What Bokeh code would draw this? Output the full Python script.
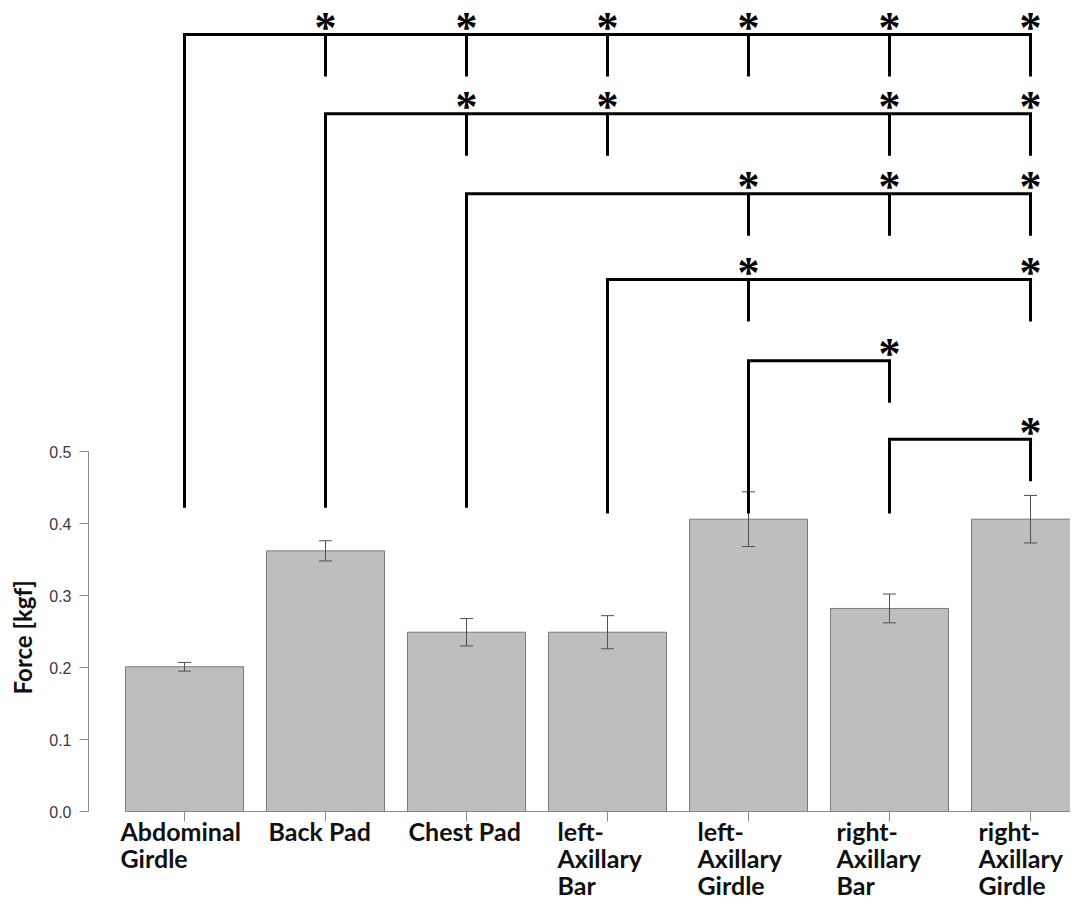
import numpy as np
from bokeh.plotting import figure
from bokeh.layouts import row
from bokeh.models import Range1d, FixedTicker, PrintfTickFormatter
from bokeh.core.properties import value
from bokeh.embed import file_html
from bokeh.resources import INLINE

# ---------------- data ----------------
categories = ["Abdominal\nGirdle", "Back Pad", "Chest Pad", "left-\nAxillary\nBar",
              "left-\nAxillary\nGirdle", "right-\nAxillary\nBar", "right-\nAxillary\nGirdle"]
force_mean = [0.201, 0.362, 0.249, 0.249, 0.406, 0.282, 0.406]
force_err = [0.006, 0.014, 0.019, 0.023, 0.038, 0.020, 0.033]
y_ticks = [0.0, 0.1, 0.2, 0.3, 0.4, 0.5]
y_title = "Force [kgf]"

# significance brackets: reference bar -> bars that differ significantly
sig_ref = [0, 1, 2, 3, 4, 5]
sig_targets = [[1, 2, 3, 4, 5, 6], [2, 3, 5, 6], [4, 5, 6], [4, 6], [5], [6]]
bracket_level = [1.079, 0.969, 0.858, 0.739, 0.626, 0.517]
bracket_foot = [0.422, 0.422, 0.422, 0.414, 0.414, 0.414]

# ---------------- layout constants ----------------
W, H = 1070, 899
TITLE_W = 40       # width of the strip holding the y title
LEFT = 88          # frame left edge of the chart (px from page left)
ZERO_PX = 811      # pixel row of y = 0
X0_PX = 184        # pixel column of first bar centre
PXX = 141.0        # px per category
PXY = 720.0        # px per kgf
BAR_W = 118 / PXX
CAP = 6.5 / PXX
DROP = 42 / PXY
AST_DY = 7 / PXY
LABEL_DX = [-64, -57, -58, -50, -51, -53, -52]

x = np.arange(len(categories), dtype=float)
y_range = Range1d(-(H - ZERO_PX) / PXY, ZERO_PX / PXY)

# ---------- main chart ----------
p = figure(width=W - TITLE_W, height=H, output_backend="svg", toolbar_location=None,
           x_axis_location=None, min_border_left=LEFT - TITLE_W, min_border_right=0,
           min_border_top=0, min_border_bottom=0,
           x_range=Range1d((LEFT - X0_PX) / PXX, (W - X0_PX) / PXX),
           y_range=y_range)
p.outline_line_color = None
p.grid.visible = False
p.background_fill_color = "white"

ya = p.yaxis[0]
ya.bounds = (y_ticks[0], y_ticks[-1])
ya.ticker = FixedTicker(ticks=y_ticks)
ya.formatter = PrintfTickFormatter(format="%.1f")
ya.minor_tick_line_color = None
ya.major_tick_in = 0
ya.major_tick_out = 9
ya.major_label_standoff = 8
ya.axis_line_color = "#8a8a8a"
ya.major_tick_line_color = "#8a8a8a"
ya.major_label_text_font = "Liberation Sans"
ya.major_label_text_font_size = "16px"
ya.major_label_text_color = "#3a3a3a"

# bars
p.vbar(x=x, top=force_mean, bottom=0, width=BAR_W,
       fill_color="#bebebe", line_color="#7a7a7a", line_width=1)

# x baseline and ticks
p.segment(x0=[x[0] - 0.5 * BAR_W], y0=[0], x1=[x[-1] + 0.5 * BAR_W], y1=[0],
          line_color="#8a8a8a", line_width=1)
p.segment(x0=x, y0=np.zeros_like(x), x1=x, y1=np.full_like(x, -10 / PXY),
          line_color="#8a8a8a", line_width=1)

# error bars
m = np.array(force_mean)
e = np.array(force_err)
p.segment(x0=x, y0=m - e, x1=x, y1=m + e, line_color="#505050", line_width=1)
p.segment(x0=x - CAP, y0=m + e, x1=x + CAP, y1=m + e, line_color="#505050", line_width=1)
p.segment(x0=x - CAP, y0=m - e, x1=x + CAP, y1=m - e, line_color="#505050", line_width=1)

# category labels
p.text(x=x, y=np.full_like(x, -4 / PXY), text=categories, x_offset=LABEL_DX,
       text_align="left", text_baseline="top", text_line_height=0.9,
       text_font=value("Lato"), text_font_style="bold", text_font_size="25px",
       text_color="#111111")

# significance brackets
bxs, bys = [], []
dx0, dy0, dx1, dy1 = [], [], [], []
ax, ay = [], []
for r, tg, lv, ft in zip(sig_ref, sig_targets, bracket_level, bracket_foot):
    xr = x[tg[-1]]
    bxs.append([x[r], x[r], xr, xr])
    bys.append([ft, lv, lv, lv - DROP])
    for t in tg:
        if t != tg[-1]:
            dx0.append(x[t]); dy0.append(lv); dx1.append(x[t]); dy1.append(lv - DROP)
        ax.append(x[t]); ay.append(lv + AST_DY)

p.multi_line(xs=bxs, ys=bys, line_color="black", line_width=3, line_join="miter")
p.segment(x0=dx0, y0=dy0, x1=dx1, y1=dy1, line_color="black", line_width=3)
p.text(x=ax, y=ay, text=["*"] * len(ax), text_align="center", text_baseline="middle",
       text_font=value("Liberation Serif"), text_font_style="bold",
       text_font_size="44px", text_color="black")

# ---------- strip with the rotated y-axis title ----------
t = figure(width=TITLE_W, height=H, output_backend="svg", toolbar_location=None,
           x_axis_location=None, y_axis_location=None,
           min_border_left=0, min_border_right=0, min_border_top=0, min_border_bottom=0,
           x_range=Range1d(0, TITLE_W), y_range=y_range)
t.outline_line_color = None
t.grid.visible = False
t.text(x=[22], y=[0.242], text=[y_title], angle=np.pi / 2,
       text_align="center", text_baseline="middle",
       text_font=value("Lato"), text_font_style="bold", text_font_size="24px",
       text_color="#111111")

layout = row(t, p)
open("out.html", "w").write(file_html(layout, INLINE))
